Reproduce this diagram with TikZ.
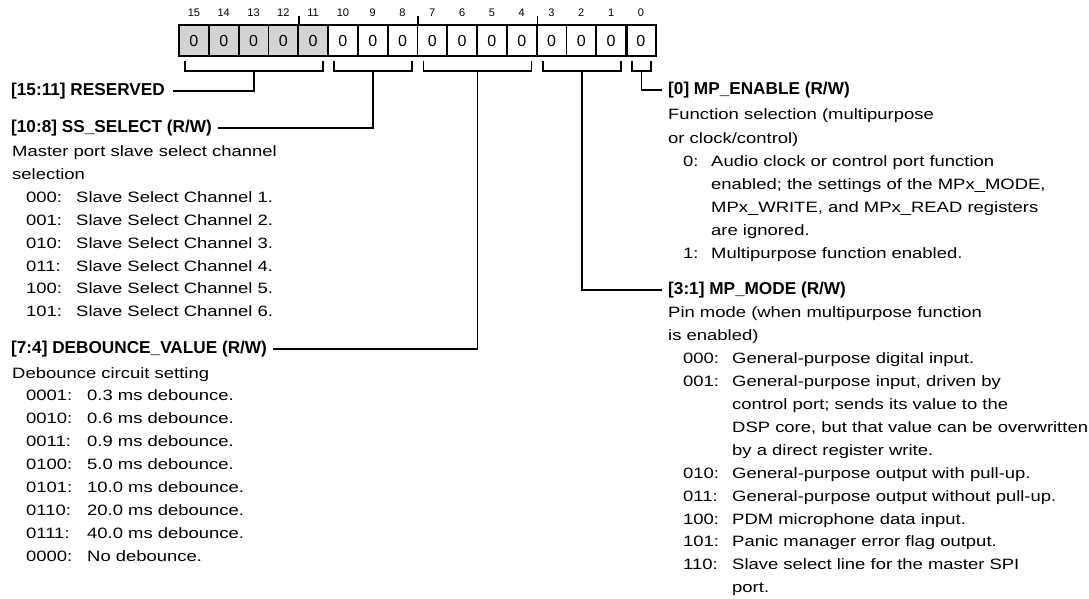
\documentclass[tikz,border=0pt]{standalone}
\usepackage{fontspec}
\setmainfont{Liberation Sans}
\newfontfamily\bodyf[FakeStretch=1.23]{Liberation Sans}
\usetikzlibrary{calc}
\definecolor{regGray}{HTML}{D3D3D3}
\tikzset{
  reg/.style={draw, line width=1.8pt, minimum width=29.8pt, minimum height=31pt, inner sep=0pt, font=\fontsize{16}{16}\selectfont},
  bitnum/.style={inner sep=0pt, font=\fontsize{11}{11}\selectfont},
  head/.style={anchor=west, inner sep=0pt, font=\fontsize{17.2}{20}\selectfont\bfseries},
  body/.style={anchor=base west, inner sep=0pt, font=\bodyf\fontsize{15}{20}\selectfont},
  wire/.style={line width=1.8pt}
}
\begin{document}
\begin{tikzpicture}[x=1pt,y=-1pt]
\useasboundingbox[fill=white] (0,0) rectangle (1089,599);
% register cells
\foreach \b in {0,...,15}{
  \pgfmathsetmacro{\cx}{193.9+(15-\b)*29.8}
  \ifnum\b>10 \def\cellfill{regGray}\else\def\cellfill{white}\fi
  \node[reg, fill=\cellfill] (c\b) at (\cx,40.5) {0};
  \node[bitnum] (n\b) at (\cx,13) {\b};
}
\draw[line width=3pt] (c1.north east) -- (c1.south east);
% nibble ticks
\foreach \b in {12,8,4}{
  \draw[line width=1.8pt] (c\b.north east) -- ++(0,-8);
}
% brackets
\coordinate (bl1) at ($(c15.south west)+(7,4)$);
\coordinate (br1) at ($(c11.south east)+(-6,4)$);
\coordinate (bl2) at ($(c10.south west)+(7,4)$);
\coordinate (br2) at ($(c8.south east)+(-6,4)$);
\coordinate (bl3) at ($(c7.south west)+(7,4)$);
\coordinate (br3) at ($(c4.south east)+(-6,4)$);
\coordinate (bl4) at ($(c3.south west)+(7,4)$);
\coordinate (br4) at ($(c1.south east)+(-6,4)$);
\coordinate (bl5) at ($(c0.south west)+(7,4)$);
\coordinate (br5) at ($(c0.south east)+(-6,4)$);
\foreach \i in {1,...,5}{
  \draw[wire] (bl\i) -- ++(0,10) -| (br\i);
  \coordinate (s\i) at ($(bl\i)!0.5!(br\i)+(0,10)$);
}
% left column
\node[head] (hres) at (11,91) {[15:11] RESERVED};
\node[head] (hss) at (11,128) {[10:8] SS\_SELECT (R/W)};
\node[body] (ssd1) at (12,157) {Master port slave select channel};
\node[body] (ssd2) at (12,179.8) {selection};
\node[body] (ssc1) at (26,202.6) {000:}; \node[body] (sst1) at (76,202.6) {Slave Select Channel 1.};
\node[body] (ssc2) at (26,225.4) {001:}; \node[body] (sst2) at (76,225.4) {Slave Select Channel 2.};
\node[body] (ssc3) at (26,248.2) {010:}; \node[body] (sst3) at (76,248.2) {Slave Select Channel 3.};
\node[body] (ssc4) at (26,271.0) {011:}; \node[body] (sst4) at (76,271.0) {Slave Select Channel 4.};
\node[body] (ssc5) at (26,293.8) {100:}; \node[body] (sst5) at (76,293.8) {Slave Select Channel 5.};
\node[body] (ssc6) at (26,316.6) {101:}; \node[body] (sst6) at (76,316.6) {Slave Select Channel 6.};
\node[head] (hdb) at (11,349) {[7:4] DEBOUNCE\_VALUE (R/W)};
\node[body] (dbd1) at (12,378) {Debounce circuit setting};
\node[body] (dbc1) at (26,400.0) {0001:}; \node[body] (dbt1) at (87,400.0) {0.3 ms debounce.};
\node[body] (dbc2) at (26,423.1) {0010:}; \node[body] (dbt2) at (87,423.1) {0.6 ms debounce.};
\node[body] (dbc3) at (26,446.2) {0011:}; \node[body] (dbt3) at (87,446.2) {0.9 ms debounce.};
\node[body] (dbc4) at (26,469.3) {0100:}; \node[body] (dbt4) at (87,469.3) {5.0 ms debounce.};
\node[body] (dbc5) at (26,492.4) {0101:}; \node[body] (dbt5) at (87,492.4) {10.0 ms debounce.};
\node[body] (dbc6) at (26,515.5) {0110:}; \node[body] (dbt6) at (87,515.5) {20.0 ms debounce.};
\node[body] (dbc7) at (26,538.6) {0111:}; \node[body] (dbt7) at (87,538.6) {40.0 ms debounce.};
\node[body] (dbc8) at (26,561.7) {0000:}; \node[body] (dbt8) at (87,561.7) {No debounce.};
% right column
\node[head] (hen) at (668,90) {[0] MP\_ENABLE (R/W)};
\node[body] (end1) at (668,120) {Function selection (multipurpose};
\node[body] (end2) at (668,143) {or clock/control)};
\node[body] (enc1) at (683,166) {0:}; \node[body] (ent1) at (711,166) {Audio clock or control port function};
\node[body] (ent2) at (711,189) {enabled; the settings of the MPx\_MODE,};
\node[body] (ent3) at (711,212) {MPx\_WRITE, and MPx\_READ registers};
\node[body] (ent4) at (711,235) {are ignored.};
\node[body] (enc2) at (683,258) {1:}; \node[body] (ent5) at (711,258) {Multipurpose function enabled.};
\node[head] (hmd) at (668,290) {[3:1] MP\_MODE (R/W)};
\node[body] (mdd1) at (668,317.9) {Pin mode (when multipurpose function};
\node[body] (mdd2) at (668,340.8) {is enabled)};
\node[body] (mdc1) at (683,363.7) {000:}; \node[body] (mdt1) at (732,363.7) {General-purpose digital input.};
\node[body] (mdc2) at (683,386.6) {001:}; \node[body] (mdt2) at (732,386.6) {General-purpose input, driven by};
\node[body] (mdt3) at (732,409.5) {control port; sends its value to the};
\node[body] (mdt4) at (732,432.4) {DSP core, but that value can be overwritten};
\node[body] (mdt5) at (732,455.3) {by a direct register write.};
\node[body] (mdc3) at (683,478.2) {010:}; \node[body] (mdt6) at (732,478.2) {General-purpose output with pull-up.};
\node[body] (mdc4) at (683,501.1) {011:}; \node[body] (mdt7) at (732,501.1) {General-purpose output without pull-up.};
\node[body] (mdc5) at (683,524.0) {100:}; \node[body] (mdt8) at (732,524.0) {PDM microphone data input.};
\node[body] (mdc6) at (683,546.9) {101:}; \node[body] (mdt9) at (732,546.9) {Panic manager error flag output.};
\node[body] (mdc7) at (683,569.8) {110:}; \node[body] (mdt10) at (732,569.8) {Slave select line for the master SPI};
\node[body] (mdt11) at (732,592.7) {port.};
% connectors
\draw[wire] (s1) |- ([xshift=8pt]hres.east);
\draw[wire] (s2) |- ([xshift=6pt]hss.east);
\draw[wire] (s3) |- ([xshift=6pt]hdb.east);
\draw[wire] (s4) |- ([xshift=-6pt]hmd.west);
\draw[wire] (s5) |- ([xshift=-6pt]hen.west);
\end{tikzpicture}
\end{document}
